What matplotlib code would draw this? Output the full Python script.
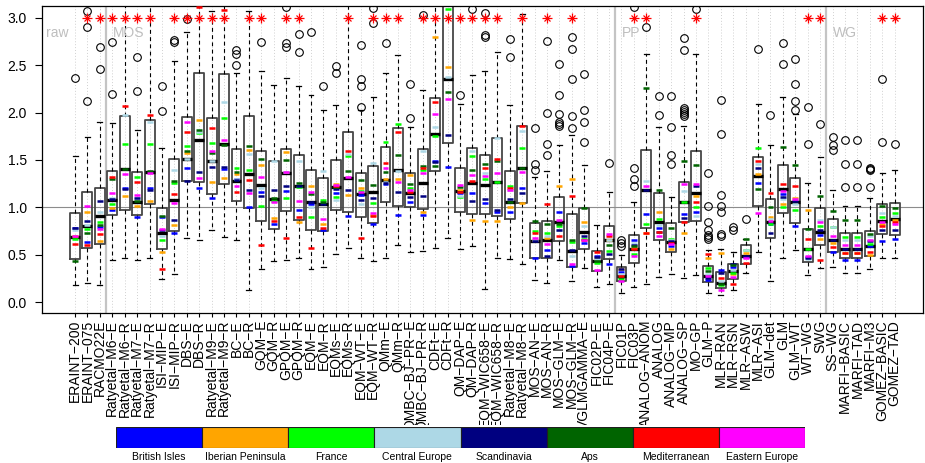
import matplotlib
matplotlib.use("Agg")
import matplotlib.pyplot as plt
from matplotlib.transforms import Bbox, TransformedBbox, ScaledTranslation, blended_transform_factory

plt.rcParams['font.family'] = ['Liberation Sans', 'DejaVu Sans']

# ---------------------------------------------------------------- data
methods = [
    "ERAINT-200", "ERAINT-075", "RACMO22E", "Ratyetal-M6-E", "Ratyetal-M6-R",
    "Ratyetal-M7-E", "Ratyetal-M7-R", "ISI-MIP-E", "ISI-MIP-R", "DBS-E",
    "DBS-R", "Ratyetal-M9-E", "Ratyetal-M9-R", "BC-E", "BC-R",
    "GQM-E", "GQM-R", "GPQM-E", "GPQM-R", "EQM-E",
    "EQM-R", "EQMs-E", "EQMs-R", "EQM-WT-E", "EQM-WT-R",
    "QMm-E", "QMm-R", "QMBC-BJ-PR-E", "QMBC-BJ-PR-R", "CDFt-E",
    "CDFt-R", "QM-DAP-E", "QM-DAP-R", "EQM-WIC658-E", "EQM-WIC658-R",
    "Ratyetal-M8-E", "Ratyetal-M8-R", "MOS-AN-E", "MOS-AN-R", "MOS-GLM-E",
    "MOS-GLM-R", "VGLMGAMMA-E", "FIC02P-E", "FIC04P-E", "FIC01P",
    "FIC03P", "ANALOG-ANOM", "ANALOG", "ANALOG-MP", "ANALOG-SP",
    "MO-GP", "GLM-P", "MLR-RAN", "MLR-RSN", "MLR-ASW",
    "MLR-ASI", "GLM-det", "GLM", "GLM-WT", "WT-WG",
    "SWG", "SS-WG", "MARFI-BASIC", "MARFI-TAD", "MARFI-M3",
    "GOMEZ-BASIC", "GOMEZ-TAD",
]

whisker_low = [
    0.18, 0.20, 0.18, 0.44, 0.47, 0.44, 0.46, 0.24, 0.30, 0.68,
    0.65, 0.76, 0.69, 0.66, 0.13, 0.35, 0.43, 0.44, 0.46, 0.35,
    0.37, 0.51, 0.57, 0.46, 0.43, 0.46, 0.60, 0.53, 0.54, 0.57,
    0.68, 0.56, 0.59, 0.14, 0.47, 0.45, 0.40, 0.23, 0.20, 0.44,
    0.22, 0.36, 0.16, 0.19, 0.10, 0.16, 0.19, 0.26, 0.30, 0.25,
    0.29, 0.09, 0.07, 0.13, 0.31, 0.53, 0.22, 0.47, 0.55, 0.29,
    0.36, 0.37, 0.31, 0.31, 0.35, 0.46, 0.46,
]
lower_quartile = [
    0.45, 0.57, 0.61, 0.92, 0.97, 0.92, 1.04, 0.56, 0.75, 1.28,
    1.27, 1.14, 1.25, 1.07, 0.99, 0.86, 0.77, 0.96, 0.87, 0.76,
    0.75, 0.97, 0.95, 0.90, 0.83, 1.06, 1.01, 1.00, 0.98, 1.38,
    1.68, 0.95, 0.93, 0.93, 0.91, 0.88, 1.05, 0.46, 0.46, 0.64,
    0.37, 0.56, 0.33, 0.45, 0.22, 0.41, 0.78, 0.66, 0.53, 0.85,
    0.86, 0.21, 0.15, 0.24, 0.40, 1.01, 0.68, 0.94, 0.83, 0.42,
    0.60, 0.53, 0.46, 0.46, 0.49, 0.72, 0.71,
]
median = [
    0.69, 0.80, 0.91, 1.08, 1.40, 1.06, 1.37, 0.73, 1.08, 1.51,
    1.71, 1.49, 1.67, 1.28, 1.35, 1.24, 1.09, 1.36, 1.22, 1.06,
    1.04, 1.21, 1.31, 1.14, 1.16, 1.29, 1.39, 1.15, 1.26, 1.77,
    2.35, 1.17, 1.26, 1.24, 1.27, 1.06, 1.41, 0.64, 0.65, 0.85,
    0.54, 0.74, 0.43, 0.65, 0.27, 0.56, 1.18, 0.84, 0.63, 1.06,
    1.15, 0.28, 0.20, 0.33, 0.49, 1.33, 0.85, 1.19, 1.06, 0.56,
    0.74, 0.66, 0.56, 0.56, 0.59, 0.86, 0.88,
]
upper_quartile = [
    0.94, 1.16, 1.20, 1.38, 1.96, 1.37, 1.92, 0.99, 1.51, 1.95,
    2.42, 1.94, 2.41, 1.62, 1.96, 1.59, 1.49, 1.62, 1.55, 1.39,
    1.31, 1.50, 1.80, 1.36, 1.44, 1.64, 1.84, 1.36, 1.62, 2.15,
    3.40, 1.41, 1.63, 1.55, 1.73, 1.38, 1.86, 0.83, 0.86, 1.11,
    0.93, 0.99, 0.54, 0.80, 0.37, 0.71, 1.61, 1.15, 0.83, 1.27,
    1.60, 0.38, 0.32, 0.40, 0.60, 1.53, 1.09, 1.45, 1.31, 0.77,
    0.99, 0.88, 0.73, 0.73, 0.75, 1.03, 1.05,
]
whisker_high = [
    1.54, 1.74, 1.90, 1.89, 3.30, 1.82, 3.30, 1.63, 2.54, 2.85,
    3.30, 3.07, 3.30, 2.42, 3.07, 2.44, 2.29, 2.37, 2.28, 2.19,
    2.03, 2.08, 3.30, 2.03, 2.17, 2.42, 2.61, 1.85, 2.24, 3.30,
    3.50, 2.09, 2.40, 2.44, 2.64, 2.08, 3.04, 1.32, 1.38, 1.66,
    1.76, 1.45, 0.81, 1.16, 0.50, 1.06, 2.62, 1.85, 1.11, 1.86,
    2.62, 0.55, 0.56, 0.53, 0.67, 2.09, 1.66, 2.17, 1.99, 1.26,
    1.53, 1.18, 1.01, 1.01, 1.10, 1.36, 1.39,
]
outliers = [
    [2.37], [2.12, 2.90, 3.07], [2.46, 2.69], [2.20, 2.75], [],
    [2.23, 2.59], [], [2.02, 2.28], [2.75, 2.77], [2.99],
    [], [], [], [2.50, 2.62, 2.66], [],
    [2.75], [], [2.69, 2.73, 3.12], [2.64, 2.83], [2.85],
    [2.28], [2.42, 2.49], [], [2.06, 2.28, 2.35, 2.71], [2.95, 3.11],
    [2.73], [], [1.94, 2.30], [3.03], [],
    [], [2.19], [3.09], [2.80, 2.82, 3.05], [],
    [2.59, 2.78], [], [1.39, 1.46, 1.84], [1.55, 1.67, 2.00, 2.76],
    [1.86, 1.88, 1.90, 1.99, 2.19, 2.51],
    [1.84, 1.96, 2.36, 2.67, 2.80], [1.69, 1.90, 2.03, 2.41], [], [1.47], [0.59, 0.62, 0.66],
    [1.22, 1.30, 1.41, 3.12], [2.90], [1.97, 2.18], [1.46, 1.55, 1.85, 2.18],
    [1.96, 1.99, 2.01, 2.03, 2.05, 2.66, 2.79],
    [3.09], [0.67, 0.69, 0.71, 0.76, 0.84, 1.01, 1.36],
    [0.70, 0.72, 0.95, 1.01, 1.13, 1.77, 2.13], [0.76, 0.79], [0.88],
    [2.67], [1.98], [2.51, 2.74], [2.03, 2.12, 2.30, 2.57], [1.67, 2.06],
    [1.88], [1.61, 1.66, 1.74], [1.21, 1.46, 1.71], [1.21, 1.46, 1.71], [1.21, 1.39, 1.40, 1.42],
    [1.69, 2.35], [1.67],
]

# regional scores, one list per PRUDENCE region
british_isles = [
    0.78, 0.63, 0.79, 0.97, 1.20, 0.90, 1.20, 0.90, 0.73, 1.41,
    1.20, 1.10, 1.40, 1.30, 1.00, 1.16, 0.82, 1.17, 0.97, 1.04,
    0.76, 1.15, 0.91, 1.13, 0.82, 1.25, 0.92, 1.06, 0.92, 1.49,
    1.43, 1.15, 1.15, 1.05, 0.95, 0.95, 1.20, 0.46, 0.55, 0.95,
    0.38, 0.62, 0.49, 0.40, 0.32, 0.66, 0.93, 0.78, 0.59, 0.93,
    0.95, 0.23, 0.34, 0.37, 0.48, 1.26, 0.82, 1.14, 0.80, 0.48,
    0.71, 0.53, 0.44, 0.44, 0.59, 0.64, 0.67,
]
iberian_peninsula = [
    0.70, 0.95, 0.64, 0.99, 1.12, 1.01, 1.07, 0.53, 0.81, 1.57,
    1.92, 1.27, 1.31, 1.35, 1.61, 1.45, 0.89, 1.58, 0.84, 1.23,
    0.82, 1.25, 1.13, 1.20, 0.92, 1.30, 1.30, 1.34, 0.95, 2.80,
    2.48, 1.18, 0.87, 0.86, 0.86, 1.00, 1.05, 0.65, 0.68, 1.22,
    1.30, 0.85, 0.46, 0.65, 0.35, 0.57, 0.73, 0.95, 0.56, 0.73,
    1.12, 0.47, 0.52, 0.30, 0.52, 1.35, 0.90, 1.04, 1.10, 0.97,
    0.67, 0.62, 0.52, 0.52, 0.50, 0.82, 0.87,
]
france = [
    0.67, 0.77, 0.85, 1.04, 1.67, 1.32, 1.67, 0.66, 1.26, 1.65,
    1.79, 1.68, 1.94, 1.41, 1.39, 1.01, 1.07, 1.10, 1.21, 0.90,
    1.08, 1.11, 1.54, 1.17, 1.05, 1.69, 1.88, 1.20, 1.39, 1.75,
    3.09, 1.11, 1.54, 1.30, 1.27, 1.23, 1.63, 0.75, 0.73, 0.80,
    0.63, 0.67, 0.41, 0.54, 0.24, 0.51, 0.82, 0.88, 0.67, 1.06,
    1.00, 0.36, 0.18, 0.31, 0.55, 1.63, 0.82, 1.00, 0.97, 0.56,
    0.80, 0.79, 0.69, 0.69, 0.61, 0.90, 0.94,
]
central_europe = [
    0.76, 0.81, 0.95, 1.10, 1.98, 1.10, 1.90, 0.70, 1.39, 1.51,
    1.80, 1.49, 2.11, 1.30, 1.56, 1.20, 1.49, 1.37, 1.49, 1.00,
    1.38, 1.08, 1.56, 1.04, 1.47, 1.27, 1.38, 1.17, 1.60, 1.85,
    2.38, 1.12, 1.59, 1.36, 1.73, 1.18, 1.81, 0.66, 0.70, 0.76,
    0.49, 0.80, 0.45, 0.66, 0.30, 0.62, 1.28, 0.81, 0.66, 1.17,
    0.91, 0.30, 0.22, 0.34, 0.55, 1.46, 0.88, 1.09, 1.04, 0.45,
    0.87, 0.79, 0.66, 0.66, 0.70, 0.94, 0.91,
]
scandinavia = [
    0.78, 0.86, 1.07, 1.09, 1.19, 1.10, 1.18, 0.76, 0.87, 1.28,
    1.37, 1.43, 1.43, 1.29, 1.18, 1.12, 1.18, 1.23, 1.22, 1.06,
    1.04, 1.19, 1.18, 1.08, 1.10, 1.26, 1.16, 1.11, 1.12, 1.48,
    1.76, 1.16, 1.07, 1.09, 0.97, 1.09, 1.15, 0.64, 0.49, 0.76,
    0.55, 0.70, 0.48, 0.51, 0.35, 0.60, 1.18, 0.74, 0.64, 0.89,
    1.23, 0.25, 0.31, 0.40, 0.49, 1.42, 0.73, 1.11, 1.07, 0.47,
    0.76, 0.66, 0.56, 0.56, 0.64, 0.76, 0.76,
]
alps = [
    0.43, 0.73, 0.81, 1.30, 1.40, 1.07, 1.38, 0.91, 1.28, 1.60,
    1.82, 1.57, 1.66, 1.37, 1.65, 1.51, 1.10, 1.50, 1.26, 1.14,
    1.06, 1.21, 1.38, 1.29, 1.24, 1.37, 1.55, 1.25, 1.44, 1.44,
    2.22, 1.21, 1.39, 1.46, 1.49, 1.06, 1.41, 0.86, 0.82, 0.82,
    0.65, 0.99, 0.43, 0.60, 0.26, 0.59, 2.26, 1.18, 0.78, 1.49,
    1.45, 0.33, 0.19, 0.39, 0.67, 1.19, 1.00, 1.64, 1.45, 0.77,
    1.12, 0.96, 0.87, 0.87, 0.72, 1.01, 0.99,
]
mediterranean = [
    0.61, 0.60, 0.72, 1.32, 2.07, 1.27, 1.98, 0.35, 1.14, 1.80,
    3.12, 1.84, 3.08, 1.16, 1.29, 0.60, 0.86, 0.68, 0.90, 0.57,
    0.78, 1.23, 1.59, 0.68, 0.91, 1.47, 1.80, 1.16, 1.41, 2.11,
    3.20, 1.16, 1.28, 1.41, 1.51, 1.20, 1.86, 0.73, 1.03, 0.70,
    1.12, 0.65, 0.53, 0.70, 0.28, 0.56, 0.73, 0.74, 0.62, 0.85,
    1.06, 0.51, 0.25, 0.19, 0.41, 1.49, 1.15, 1.25, 1.23, 0.67,
    0.44, 0.58, 0.52, 0.52, 0.53, 0.80, 0.85,
]
eastern_europe = [
    0.70, 1.01, 0.77, 1.15, 1.35, 1.13, 1.36, 0.77, 1.05, 1.90,
    1.31, 1.59, 1.71, 1.23, 1.15, 1.32, 1.06, 1.37, 1.07, 1.16,
    0.88, 1.24, 1.32, 1.16, 0.94, 1.41, 1.27, 1.18, 1.36, 1.99,
    2.14, 1.24, 1.34, 1.33, 1.36, 1.18, 1.37, 0.68, 0.61, 0.87,
    0.40, 0.66, 0.34, 0.72, 0.22, 0.49, 1.23, 0.70, 0.61, 1.25,
    1.25, 0.28, 0.13, 0.26, 0.46, 0.94, 0.86, 1.17, 1.09, 0.49,
    0.85, 0.70, 0.60, 0.60, 0.66, 0.84, 0.82,
]

region_names = ["British Isles", "Iberian Peninsula", "France", "Central Europe",
                "Scandinavia", "Aps", "Mediterranean", "Eastern Europe"]
region_colors = ["#0000ff", "#ffa500", "#00ff00", "#add8e6",
                 "#000080", "#006400", "#ff0000", "#ff00ff"]
region_series = [british_isles, iberian_peninsula, france, central_europe,
                 scandinavia, alps, mediterranean, eastern_europe]

# methods marked with a red asterisk
flagged = [1, 2, 3, 4, 5, 6, 8, 9, 10, 11, 12, 14, 15, 17, 18, 22, 24, 25, 26,
           28, 29, 30, 31, 32, 33, 34, 36, 38, 40, 45, 46, 50, 59, 60, 65, 66]
flag_level = 3.0

# method families: (label, first index of the family)
families = [("raw", 0), ("MOS", 3), ("PP", 44), ("WG", 61)]

# ---------------------------------------------------------------- figure
fig = plt.figure(figsize=(9.25, 4.63), dpi=100)
W, H = 925, 463
ax = fig.add_axes([42 / W, 1 - 313 / H, (923 - 42) / W, (313 - 6) / H])

n = len(methods)
pos = list(range(n))
ax.set_xlim(-2.66, 68.28)
ax.set_ylim(-0.116, 3.126)

for p in pos:
    ax.axvline(p, color="#d0d0d0", ls=(0, (1, 2)), lw=0.7, zorder=0)
for _, start in families[1:]:
    ax.axvline(start - 0.5, color="#c4c4c4", lw=1.6, zorder=0.5)
ax.axhline(1.0, color="#8c8c8c", lw=0.8, zorder=0.6)

stats = []
for i in range(n):
    stats.append(dict(whislo=whisker_low[i], q1=lower_quartile[i], med=median[i],
                      q3=upper_quartile[i], whishi=whisker_high[i],
                      fliers=outliers[i], label=methods[i]))

ax.bxp(stats, positions=pos, widths=0.8, capwidths=0.4, showfliers=True,
       manage_ticks=False,
       boxprops=dict(color="#474747", lw=1.3),
       medianprops=dict(color="black", lw=2.4, solid_capstyle="butt"),
       whiskerprops=dict(color="black", lw=0.8, ls=(0, (3.5, 3))),
       capprops=dict(color="black", lw=0.9),
       flierprops=dict(marker="o", markerfacecolor="none", markeredgecolor="black",
                       markersize=5.5, markeredgewidth=0.8))

for values, col in zip(region_series, region_colors):
    ax.hlines(values, [p - 0.24 for p in pos], [p + 0.24 for p in pos],
              colors=col, lw=1.8, zorder=4)

ax.plot(flagged, [flag_level] * len(flagged), ls="none", marker="+",
        ms=7, mew=0.9, color="red", zorder=5)
ax.plot(flagged, [flag_level] * len(flagged), ls="none", marker="x",
        ms=5.0, mew=0.9, color="red", zorder=5)

for name, start in families:
    xt = -2.35 if start == 0 else start - 0.5 + 0.55
    ax.text(xt, 2.84, name, color="#bebebe", fontsize=10, ha="left", va="center")

ax.set_yticks([0.0, 0.5, 1.0, 1.5, 2.0, 2.5, 3.0])
ax.set_yticklabels(["0.0", "0.5", "1.0", "1.5", "2.0", "2.5", "3.0"])
ax.tick_params(axis="y", length=5, width=0.8, pad=6, labelsize=10)
ax.set_xticks(pos)
ax.tick_params(axis="x", length=3, width=0.8, labelbottom=False)
for sp in ax.spines.values():
    sp.set_linewidth(0.9)

# rotated method names below the axis, cut off above the region legend
label_trans = blended_transform_factory(ax.transData, ax.transAxes) + \
    ScaledTranslation(0, -5 / 72, fig.dpi_scale_trans)
clip = TransformedBbox(Bbox([[0, 38 / H], [1, 1]]), fig.transFigure)
for p, name in zip(pos, methods):
    t = fig.text(p, 0, name.replace("-", "\u2212"), transform=label_trans,
                 rotation=90, ha="center", va="top", fontsize=10)
    t.set_clip_box(clip)
    t.set_clip_on(True)

# region colour key
lax = fig.add_axes([116 / W, (H - 448) / H, (805 - 116) / W, 21 / H])
lax.bar(range(len(region_names)), [1] * len(region_names), width=1.0, align="edge",
        color=region_colors, edgecolor="#202020", linewidth=0.8)
lax.set_xlim(0, len(region_names))
lax.set_ylim(0, 1)
lax.axis("off")
for k, name in enumerate(region_names):
    lax.text(k + 0.5, -0.45, name, ha="center", va="center", fontsize=7.5,
             clip_on=False)

fig.savefig("out.png", dpi=100)
